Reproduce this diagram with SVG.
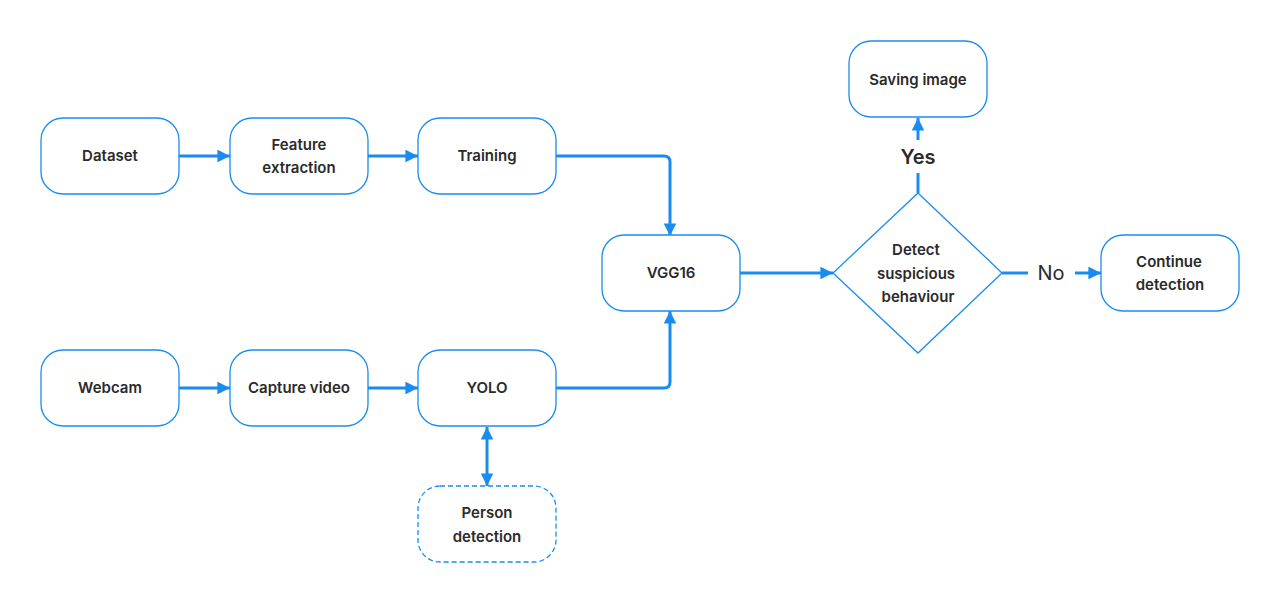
<svg xmlns="http://www.w3.org/2000/svg" width="1280" height="604" viewBox="0 0 1280 604">
<style>
.n{fill:#fff;stroke:#1a8cf0;stroke-width:1.3}
.d{stroke-dasharray:5 3}
.t{font-family:Inter,"Liberation Sans",sans-serif;font-size:15px;font-weight:600;fill:#2a2a2a;text-anchor:middle}
.c{fill:none;stroke:#1a8cf0;stroke-width:3}
.l{font-family:Inter,"Liberation Sans",sans-serif;font-size:20px;fill:#2a2a2a;text-anchor:middle}
</style>
<defs>
<marker id="a" viewBox="0 0 10 10" refX="10" refY="5" markerWidth="4.2" markerHeight="4.2" orient="auto-start-reverse" markerUnits="strokeWidth"><path d="M0,0L10,5L0,10z" fill="#1a8cf0"/></marker>
</defs>
<rect width="1280" height="604" fill="#fff"/>
<g id="connectors">
<path class="c" d="M179,156H230" marker-end="url(#a)"/>
<path class="c" d="M368,156H418" marker-end="url(#a)"/>
<path class="c" d="M556,156H664Q670,156 670,162V236" marker-end="url(#a)"/>
<path class="c" d="M179,388H230" marker-end="url(#a)"/>
<path class="c" d="M368,388H418" marker-end="url(#a)"/>
<path class="c" d="M556,388H664Q670,388 670,382V311" marker-end="url(#a)"/>
<path class="c" d="M487,427V486" marker-start="url(#a)" marker-end="url(#a)"/>
<path class="c" d="M740,273H833" marker-end="url(#a)"/>
<path class="c" d="M1002,273H1028"/>
<path class="c" d="M1075,273H1101" marker-end="url(#a)"/>
<path class="c" d="M918,193V173"/>
<path class="c" d="M918,140V118" marker-end="url(#a)"/>
<text class="l" x="1051" y="280">No</text>
<text class="l" x="918" y="164" font-weight="600">Yes</text>
</g>
<g id="dataset"><rect class="n" x="41" y="118" width="138" height="76" rx="22"/><text class="t" x="110" y="161">Dataset</text></g>
<g id="feature"><rect class="n" x="230" y="118" width="138" height="76" rx="22"/><text class="t" x="299" y="150">Feature</text><text class="t" x="299" y="173">extraction</text></g>
<g id="training"><rect class="n" x="418" y="118" width="138" height="76" rx="22"/><text class="t" x="487" y="161">Training</text></g>
<g id="vgg16"><rect class="n" x="602" y="235" width="138" height="76" rx="22"/><text class="t" x="671" y="278">VGG16</text></g>
<g id="webcam"><rect class="n" x="41" y="350" width="138" height="76" rx="22"/><text class="t" x="110" y="393">Webcam</text></g>
<g id="capture"><rect class="n" x="230" y="350" width="138" height="76" rx="22"/><text class="t" x="299" y="393">Capture video</text></g>
<g id="yolo"><rect class="n" x="418" y="350" width="138" height="76" rx="22"/><text class="t" x="487" y="393">YOLO</text></g>
<g id="person"><rect class="n d" x="418" y="486" width="138" height="76" rx="22"/><text class="t" x="487" y="518">Person</text><text class="t" x="487" y="542">detection</text></g>
<g id="decision"><path class="n" d="M918,193L1002,273L918,353L833,273Z"/><text class="t" x="916" y="255">Detect</text><text class="t" x="916" y="279">suspicious</text><text class="t" x="918" y="302">behaviour</text></g>
<g id="saving"><rect class="n" x="849" y="41" width="138" height="76" rx="22"/><text class="t" x="918" y="85">Saving image</text></g>
<g id="continue"><rect class="n" x="1101" y="235" width="138" height="76" rx="22"/><text class="t" x="1169" y="267">Continue</text><text class="t" x="1170" y="290">detection</text></g>
</svg>
